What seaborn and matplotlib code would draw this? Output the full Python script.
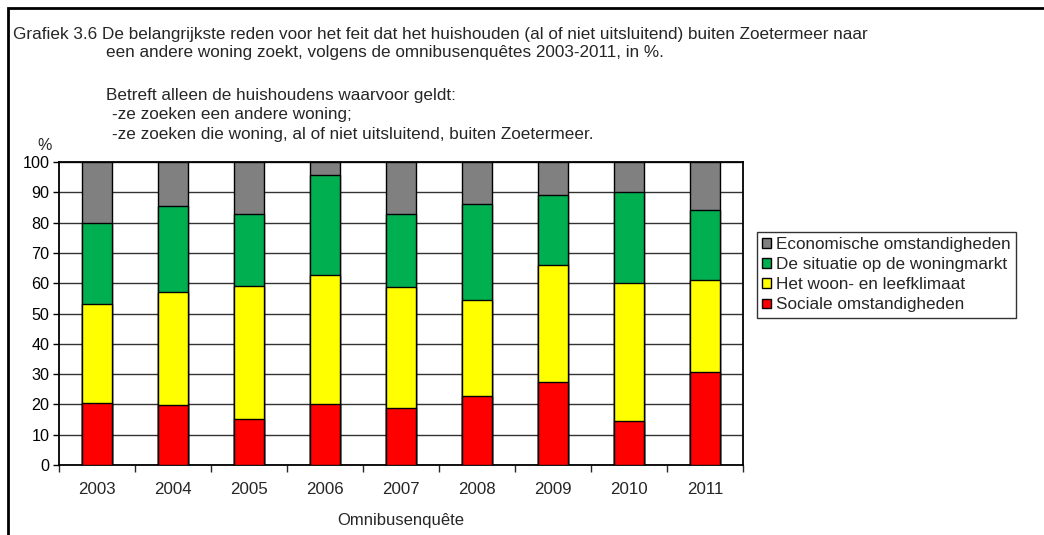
import numpy as np
import pandas as pd
import matplotlib
matplotlib.use("Agg")
import matplotlib.pyplot as plt
import seaborn as sns
from matplotlib.patches import Rectangle

# Data (percentages per survey year)
years = ["2003", "2004", "2005", "2006", "2007", "2008", "2009", "2010", "2011"]
sociaal = [20.5, 19.8, 15.2, 20.2, 18.7, 22.7, 27.3, 14.4, 30.6]
woonklimaat = [32.7, 37.2, 43.8, 42.4, 40.0, 31.9, 38.8, 45.6, 30.5]
woningmarkt = [26.6, 28.6, 23.7, 33.1, 24.0, 31.7, 23.1, 30.2, 22.9]
economisch = [20.2, 14.4, 17.3, 4.3, 17.3, 13.7, 10.8, 9.8, 16.0]

series = ["Sociale omstandigheden", "Het woon- en leefklimaat",
          "De situatie op de woningmarkt", "Economische omstandigheden"]
colors = ["#FF0000", "#FFFF00", "#00B050", "#808080"]

df = pd.DataFrame({"year": years, series[0]: sociaal, series[1]: woonklimaat,
                   series[2]: woningmarkt, series[3]: economisch})
# cumulative totals so we can overlay bars (tallest first)
cum = df[series].cumsum(axis=1)
cum["year"] = df["year"]

sns.set_style("white")
plt.rcParams["font.family"] = ["Liberation Sans", "DejaVu Sans"]

fig = plt.figure(figsize=(10.44, 5.35), dpi=100)
ax = fig.add_axes([59 / 1044, 70 / 535, 684 / 1044, 303 / 535])

for name, col in reversed(list(zip(series, colors))):
    sns.barplot(data=cum, x="year", y=name, color=col, width=0.39, saturation=1,
                edgecolor="black", linewidth=1.0, label=name, ax=ax, zorder=3)

ax.set_ylim(0, 100)
ax.set_xlim(-0.5, 8.5)
ax.set_yticks(np.arange(0, 101, 10))
ax.yaxis.grid(True, color="#333333", linewidth=1.0, zorder=0)
ax.set_axisbelow(True)
for s in ax.spines.values():
    s.set_color("black")
    s.set_linewidth(1.3)
    s.set_visible(True)

ax.tick_params(axis="y", direction="out", length=4, width=1, labelsize=11.6,
               left=True, pad=3, colors="black")
ax.tick_params(axis="x", which="major", length=0, labelsize=12.2, pad=12)
ax.set_xticks(np.arange(-0.5, 9, 1), minor=True)
ax.tick_params(axis="x", which="minor", direction="out", length=5, width=1, bottom=True)
ax.set_ylabel("")
ax.set_xlabel("Omnibusenquête", fontsize=12, labelpad=12)

h, l = ax.get_legend_handles_labels()
leg = ax.legend(h, l, loc="upper left", bbox_to_anchor=(757 / 1044, 1 - 232 / 535),
                bbox_transform=fig.transFigure, frameon=True, fancybox=False,
                edgecolor="black", fontsize=12.3, handlelength=0.5, handleheight=0.5,
                handletextpad=0.3, labelspacing=0.3, borderpad=0.3, borderaxespad=0)
leg.get_frame().set_linewidth(1.0)

# title and notes
tfs = 12.3
fig.text(13 / 1044, 1 - 34 / 535, "Grafiek 3.6 De belangrijkste reden voor het feit dat het huishouden (al of niet uitsluitend) buiten Zoetermeer naar",
         fontsize=tfs, va="center")
fig.text(106 / 1044, 1 - 53 / 535, "een andere woning zoekt, volgens de omnibusenquêtes 2003-2011, in %.",
         fontsize=tfs, va="center")
fig.text(106 / 1044, 1 - 96 / 535, "Betreft alleen de huishoudens waarvoor geldt:", fontsize=tfs, va="center")
fig.text(112 / 1044, 1 - 115 / 535, "-ze zoeken een andere woning;", fontsize=tfs, va="center")
fig.text(112 / 1044, 1 - 134 / 535, "-ze zoeken die woning, al of niet uitsluitend, buiten Zoetermeer.", fontsize=tfs, va="center")
fig.text(37 / 1044, 1 - 146 / 535, "%", fontsize=11.5, va="center")

# outer frame (left and top edges visible)
fig.add_artist(Rectangle((8 / 1044, -0.1), 1.2, 1.1 - 8 / 535, transform=fig.transFigure,
                         fill=False, edgecolor="black", linewidth=2.0))

fig.savefig("out.png", dpi=100)
